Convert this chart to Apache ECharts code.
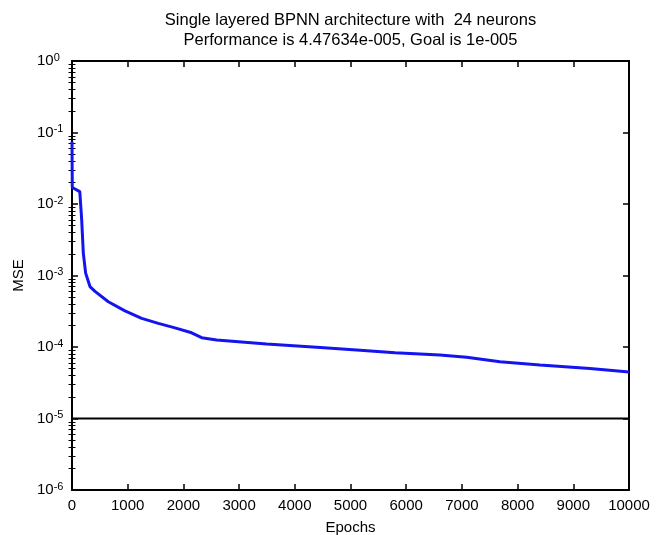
<!DOCTYPE html>
<html>
<head>
<meta charset="utf-8">
<script src="https://cdn.jsdelivr.net/npm/echarts@6/dist/echarts.min.js"></script>
<style>html,body{margin:0;padding:0;background:#fff}#c{width:663px;height:535px}</style>
</head>
<body>
<div id="c"></div>
<script>
var titleLines = ['Single layered BPNN architecture with  24 neurons', 'Performance is 4.47634e-005, Goal is 1e-005'];
var epochs = [0, 5, 140, 156, 174, 203, 245, 323, 413, 652, 951, 1251, 1550, 1849, 2148, 2328, 2597, 3494, 4392, 5110, 5800, 6606, 7085, 7683, 8401, 9299, 10000];
var mse = [0.075, 0.017, 0.0149, 0.0141, 0.006, 0.00206, 0.00108, 0.0007, 0.0006, 0.00043, 0.00032, 0.000251, 0.000214, 0.000185, 0.000158, 0.000135, 0.000125, 0.00011, 0.000099, 0.000091, 0.000083, 0.000077, 0.000072, 0.000062, 0.000056, 0.00005, 0.0000448];
var goalEpochs = [0, 10000];
var goalMse = [1e-5, 1e-5];
var xTicks = [0, 1000, 2000, 3000, 4000, 5000, 6000, 7000, 8000, 9000, 10000];
var yDecades = [-6, -5, -4, -3, -2, -1, 0];
var minorMultipliers = [2, 3, 4, 5, 6, 7, 8, 9];

var minorLogs = [];
yDecades.slice(0, -1).forEach(function (d) {
  minorMultipliers.forEach(function (m) { minorLogs.push(d + Math.log10(m)); });
});

var FONT = 'Liberation Sans, Arial, sans-serif';
var grid = { left: 72, top: 61, right: 34, bottom: 45, outerBoundsMode: 'none', containLabel: false };
var plotCenter = grid.left + (663 - grid.left - grid.right) / 2;

var chart = echarts.init(document.getElementById('c'));
var lineStyleAxis = { color: '#000', width: 2 };
var majorTick = { show: true, inside: true, length: 6, lineStyle: { color: '#000', width: 1.5 } };

function minorAxis(pos) {
  return {
    type: 'value', position: pos, min: -6, max: 0, gridIndex: 0,
    axisLine: { show: false }, splitLine: { show: false },
    axisLabel: { show: false },
    axisTick: { show: true, inside: true, length: 3.5, customValues: minorLogs, lineStyle: { color: '#000', width: 1 } }
  };
}

chart.setOption({
  animation: false,
  backgroundColor: '#fff',
  textStyle: { fontFamily: FONT },
  grid: grid,
  graphic: titleLines.map(function (t, i) {
    return {
      type: 'text', x: plotCenter, y: 20 + i * 20,
      style: { text: t, font: '16.5px ' + FONT, fill: '#000', textAlign: 'center', textVerticalAlign: 'middle' }
    };
  }),
  xAxis: [
    {
      type: 'value', min: 0, max: 10000, interval: 1000, position: 'bottom',
      name: 'Epochs', nameLocation: 'middle', nameGap: 30,
      nameTextStyle: { fontSize: 15, color: '#000', fontFamily: FONT },
      axisLine: { show: true, onZero: false, lineStyle: lineStyleAxis },
      axisTick: majorTick,
      splitLine: { show: false },
      axisLabel: { color: '#000', fontSize: 15, margin: 8, fontFamily: FONT,
        customValues: xTicks, formatter: function (v) { return String(v); } }
    },
    {
      type: 'value', min: 0, max: 10000, interval: 1000, position: 'top',
      axisLine: { show: true, onZero: false, lineStyle: lineStyleAxis },
      axisTick: majorTick, splitLine: { show: false }, axisLabel: { show: false }
    }
  ],
  yAxis: [
    {
      type: 'log', logBase: 10, min: 1e-6, max: 1, interval: 1, position: 'left',
      name: 'MSE', nameLocation: 'middle', nameGap: 46, nameRotate: 90,
      nameTextStyle: { fontSize: 15, color: '#000', fontFamily: FONT },
      axisLine: { show: true, onZero: false, lineStyle: lineStyleAxis },
      axisTick: majorTick, splitLine: { show: false },
      axisLabel: {
        align: 'left', margin: 35, color: '#000',
        formatter: function (v) {
          var e = Math.round(Math.log10(v));
          return '{b|10}{e|' + e + '}';
        },
        rich: {
          b: { fontSize: 15, fontFamily: FONT, color: '#000', lineHeight: 18 },
          e: { fontSize: 11, fontFamily: FONT, color: '#000', verticalAlign: 'top' }
        }
      }
    },
    {
      type: 'log', logBase: 10, min: 1e-6, max: 1, interval: 1, position: 'right',
      axisLine: { show: true, onZero: false, lineStyle: lineStyleAxis },
      axisTick: majorTick, splitLine: { show: false }, axisLabel: { show: false }
    },
    minorAxis('left'),
    minorAxis('right')
  ],
  series: [
    {
      type: 'line', xAxisIndex: 0, yAxisIndex: 0, showSymbol: false, symbol: 'none',
      data: goalEpochs.map(function (x, i) { return [x, goalMse[i]]; }),
      lineStyle: { color: '#000', width: 2 }, z: 3
    },
    {
      type: 'line', xAxisIndex: 0, yAxisIndex: 0, showSymbol: false, symbol: 'none',
      data: epochs.map(function (x, i) { return [x, mse[i]]; }),
      lineStyle: { color: '#1414f0', width: 3 }, z: 4
    }
  ]
});
</script>
</body>
</html>
